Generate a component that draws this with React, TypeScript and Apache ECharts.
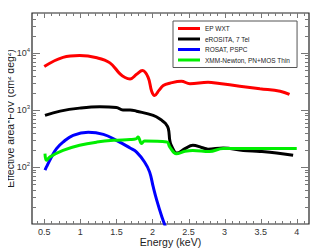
import React, { useEffect, useRef } from "react";
import * as echarts from "echarts";

// EP WXT
const epE = [0.5, 0.76, 0.99, 1.23, 1.41, 1.55, 1.62, 1.69, 1.78, 1.86, 1.94, 1.99, 2.03, 2.09, 2.15, 2.24, 2.4, 2.52, 2.77, 2.93, 3.21, 3.49, 3.77, 3.9];
const epV = [5750, 8350, 8970, 8200, 6680, 4280, 3700, 3500, 4200, 4890, 3730, 2100, 1790, 2200, 2680, 2940, 3180, 2870, 3060, 2900, 2610, 2350, 2130, 1870];
// eROSITA, 7 Tel
const erE = [0.51, 0.72, 0.99, 1.27, 1.5, 1.59, 1.69, 1.78, 2.01, 2.13, 2.18, 2.22, 2.24, 2.26, 2.34, 2.45, 2.56, 2.68, 2.77, 2.98, 3.26, 3.49, 3.72, 3.95];
const erV = [802, 953, 1075, 1137, 1107, 1000, 1000, 950, 800, 656, 580, 470, 293, 240, 175, 209, 240, 220, 205, 215, 195, 187, 176, 160];
// ROSAT, PSPC
const roE = [0.51, 0.53, 0.6, 0.67, 0.76, 0.9, 1.11, 1.32, 1.5, 1.69, 1.78, 1.89, 1.96, 2.01, 2.06, 2.13, 2.18];
const roV = [88, 100, 150, 210, 273, 358, 405, 372, 293, 215, 182, 122, 82, 45, 26, 13.4, 9];
// XMM-Newton, PN+MOS Thin
const xmE = [0.51, 0.53, 0.58, 0.76, 0.99, 1.23, 1.46, 1.69, 1.77, 1.8, 1.85, 1.89, 2.2, 2.24, 2.33, 2.45, 2.56, 2.79, 2.98, 3.26, 4.0];
const xmV = [171, 131, 150, 195, 240, 273, 293, 302, 310, 334, 257, 285, 273, 224, 171, 188, 195, 187, 210, 210, 210];

const names = ["EP WXT", "eROSITA, 7 Tel", "ROSAT, PSPC", "XMM-Newton, PN+MOS Thin"];
const colors = ["#ff0000", "#000000", "#0000ff", "#00ee00"];
const yTitle = "Effective area*FoV (cm² deg²)";
const xTitle = "Energy (keV)";

const xMin = 0.33;
const xMax = 4.17;
const yMin = 10;
const yMax = 50000;

function zip(a: number[], b: number[]) {
  return a.map((v, i) => [v, b[i]]);
}

export default function App() {
  const ref = useRef<HTMLDivElement>(null);
  useEffect(() => {
    if (!ref.current) return;
    const chart = echarts.init(ref.current, undefined, { renderer: "svg" });
    const font = "Liberation Sans";

    const xMajor: number[] = [];
    const xMinor: number[] = [];
    for (let i = 4; i <= 41; i++) {
      const v = i / 10;
      if (i % 5 === 0) xMajor.push(v);
      else xMinor.push(v);
    }
    const yMajor: number[] = [];
    const yMinorT: number[] = [];
    for (let n = 1; n <= 4; n++) {
      for (let k = 1; k <= 9; k++) {
        const v = k * Math.pow(10, n);
        if (v <= yMin || v >= yMax) continue;
        if (k === 1) yMajor.push(v);
        else yMinorT.push(v);
      }
    }

    const series: any[] = [
      [epE, epV],
      [erE, erV],
      [roE, roV],
      [xmE, xmV],
    ].map((d, i) => ({
      type: "line",
      name: names[i],
      data: zip(d[0] as number[], d[1] as number[]),
      smooth: 0.4,
      symbol: "none",
      clip: true,
      lineStyle: { color: colors[i], width: 3 },
      itemStyle: { color: colors[i] },
      z: 3 + (i === 3 ? 1 : 0),
    }));

    series.push({
      type: "custom",
      name: "ticks",
      silent: true,
      data: [[xMin, yMin]],
      renderItem: (params: any, api: any) => {
        const children: any[] = [];
        const tickStyle = { stroke: "#777", lineWidth: 1 };
        const bl = api.coord([xMin, yMin]);
        const tr = api.coord([xMax, yMax]);
        const left = bl[0];
        const bottom = bl[1];
        const right = tr[0];
        const top = tr[1];
        const addX = (v: number, len: number) => {
          const p = api.coord([v, yMin]);
          const x = Math.round(p[0]) + 0.5;
          children.push({ type: "line", shape: { x1: x, y1: bottom, x2: x, y2: bottom - len }, style: tickStyle });
          children.push({ type: "line", shape: { x1: x, y1: top, x2: x, y2: top + len }, style: tickStyle });
        };
        const addY = (v: number, len: number) => {
          const p = api.coord([xMin, v]);
          const y = Math.round(p[1]) + 0.5;
          children.push({ type: "line", shape: { x1: left, y1: y, x2: left + len, y2: y }, style: tickStyle });
          children.push({ type: "line", shape: { x1: right, y1: y, x2: right - len, y2: y }, style: tickStyle });
        };
        xMajor.forEach((v) => addX(v, 5));
        xMinor.forEach((v) => addX(v, 3));
        yMajor.forEach((v) => addY(v, 8));
        yMinorT.forEach((v) => addY(v, 4));
        return { type: "group", children };
      },
      z: 1,
    });

    chart.setOption({
      animation: false,
      backgroundColor: "#fff",
      textStyle: { fontFamily: font },
      grid: {
        left: 32,
        top: 13,
        right: 10,
        bottom: 25,
        outerBoundsMode: "none",
        containLabel: false,
        show: true,
        borderColor: "#222",
        borderWidth: 1.2,
        backgroundColor: "transparent",
      },
      graphic: [
        {
          type: "text",
          x: 9.5,
          y: 118.5,
          rotation: Math.PI / 2,
          style: {
            text: yTitle,
            fontSize: 10.5,
            fontFamily: font,
            fill: "#222",
            align: "center",
            verticalAlign: "middle",
          },
        },
      ],
      legend: {
        data: names,
        orient: "vertical",
        left: 173,
        top: 21,
        padding: [4, 7, 4, 5],
        itemWidth: 22,
        itemHeight: 3,
        itemGap: 3.5,
        icon: "path://M0,0H22V3H0Z",
        backgroundColor: "#fff",
        borderColor: "#555",
        borderWidth: 1,
        borderRadius: 0,
        textStyle: { fontSize: 6.5, color: "#222", fontFamily: font },
      },
      xAxis: {
        type: "value",
        min: xMin,
        max: xMax,
        splitNumber: 8,
        name: xTitle,
        nameLocation: "middle",
        nameGap: 12,
        nameMoveOverlap: false,
        nameTextStyle: { fontSize: 10.5, color: "#222", fontFamily: font, fontWeight: "normal" },
        axisLine: { show: false },
        axisTick: { show: false },
        splitLine: { show: false },
        axisLabel: {
          fontSize: 9,
          color: "#333",
          margin: 3,
          showMinLabel: false,
          showMaxLabel: false,
          fontFamily: font,
          formatter: (v: number) => String(Math.round(v * 10) / 10),
        },
      },
      yAxis: {
        type: "log",
        logBase: 10,
        min: yMin,
        max: yMax,
        axisLine: { show: false },
        axisTick: { show: false },
        splitLine: { show: false },
        axisLabel: {
          color: "#333",
          margin: 2,
          showMinLabel: false,
          showMaxLabel: false,
          fontFamily: font,
          formatter: (v: number) => {
            const e = Math.round(Math.log10(v));
            return "{b|10}{s|" + String(e) + "}";
          },
          rich: {
            b: { fontSize: 9, color: "#333", fontFamily: font },
            s: { fontSize: 6, color: "#333", fontFamily: font, padding: [0, 0, 6, 0] },
          },
        },
      },
      series,
    });
    return () => chart.dispose();
  }, []);
  return <div ref={ref} style={{ width: 319, height: 249, marginLeft: -8, marginTop: -8 }} />;
}
